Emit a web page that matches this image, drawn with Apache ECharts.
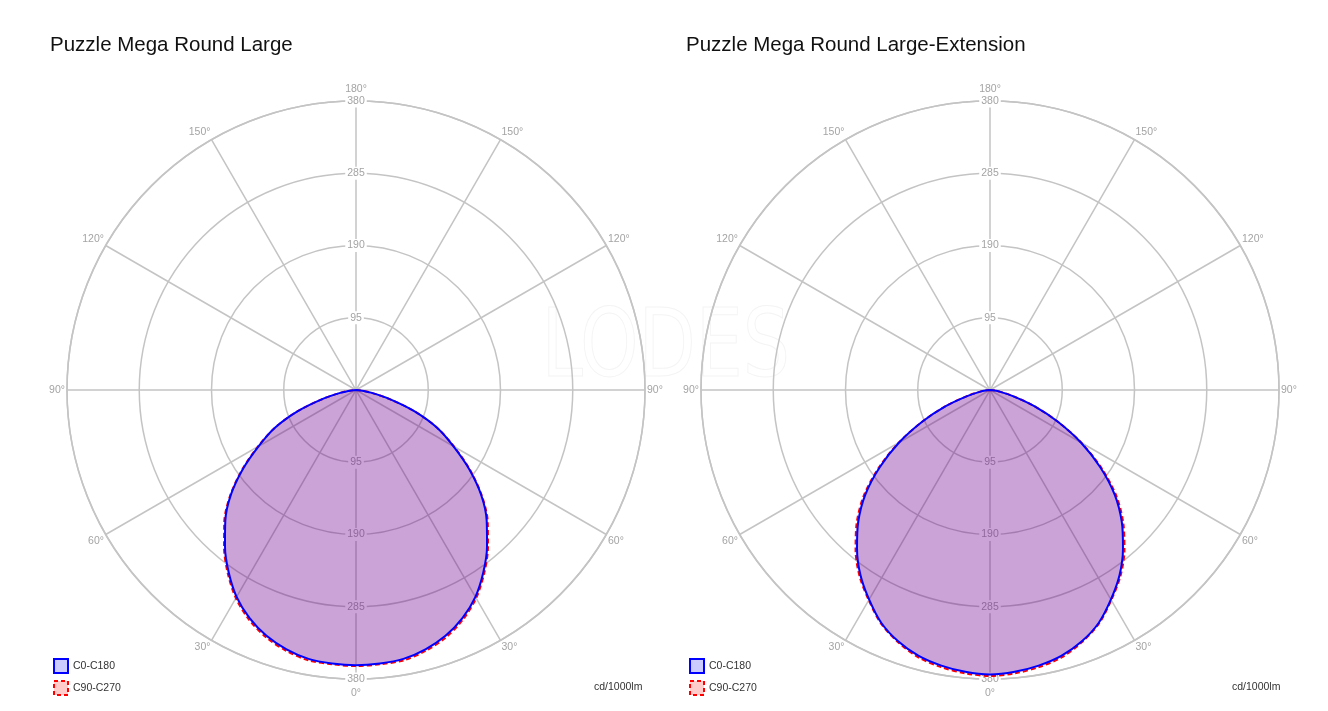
<!DOCTYPE html>
<html>
<head>
<meta charset="utf-8">
<title>Puzzle Mega Round Large</title>
<script src="https://cdn.jsdelivr.net/npm/echarts@6/dist/echarts.min.js"></script>
<style>
  html, body { margin: 0; padding: 0; background: #fff; }
  #chart { width: 1328px; height: 711px; }
</style>
</head>
<body>
<div id="chart"></div>
<script>
// angles from nadir (0 = straight down), one side of the curve
const anglesDeg = [0, 5, 10, 15, 20, 25, 30, 35, 40, 45, 50, 55, 60, 65, 70, 75, 80, 85, 90];

// Puzzle Mega Round Large
const largeC0 = [362, 361, 359, 353, 344, 331, 314, 292, 268, 243, 215, 182, 148, 118, 82, 46, 20, 6, 0];
const largeC90 = [363, 362, 361, 355, 346, 333, 316, 294, 270, 245, 216, 183, 149, 118, 82, 45, 20, 6, 0];

// Puzzle Mega Round Large-Extension
const extC0 = [374, 372, 368, 362, 352, 338, 318, 297, 272, 245, 214, 177, 138, 98, 62, 32, 14, 4, 0];
const extC90 = [376, 374, 370, 364, 353, 339, 319, 299, 275, 248, 217, 179, 139, 98, 62, 32, 14, 4, 0];

const radiusTicks = [95, 190, 285, 380];
const chartTitles = ['Puzzle Mega Round Large', 'Puzzle Mega Round Large-Extension'];
const seriesNames = ['C0-C180', 'C90-C270'];
const unitLabel = 'cd/1000lm';

const FONT = 'Liberation Sans';
const GRID = '#c4c4c4';
const LABEL = '#a4a4a4';
const R = 289;
const centers = [[356, 390], [990, 390]];

// mirror one half into a full loop: right side (negative angles) then left side
const toLoop = (vals) => {
  const pts = [];
  for (let i = anglesDeg.length - 1; i >= 0; i--) pts.push([vals[i], -anglesDeg[i]]);
  for (let i = 1; i < anglesDeg.length; i++) pts.push([vals[i], anglesDeg[i]]);
  return pts;
};

const polar = [];
const angleAxis = [];
const radiusAxis = [];
const series = [];

const radiusLabels = (idx) => ({
  polarIndex: idx,
  type: 'value',
  min: 0,
  max: radiusTicks[radiusTicks.length - 1],
  interval: radiusTicks[0],
  z: 1,
  axisLine: { show: false },
  axisTick: { show: false },
  splitLine: { show: false },
  axisLabel: {
    showMinLabel: false,
    margin: 0,
    align: 'center',
    verticalAlign: 'middle',
    color: LABEL,
    fontSize: 10.5,
    fontFamily: FONT,
    // white box cuts the ring; under the fill it just looks like the fill
    backgroundColor: '#fff',
    padding: [1, 2],
  },
});

centers.forEach((c, k) => {
  const base = k * 3;
  // main polar, the two helpers only carry the radius labels (up / down)
  for (let j = 0; j < 3; j++) polar.push({ center: [c[0], c[1]], radius: R });

  angleAxis.push({
    polarIndex: base,
    type: 'value',
    min: -180,
    max: 180,
    interval: 30,
    startAngle: 90,
    clockwise: true,
    axisLine: { lineStyle: { color: GRID, width: 1.5 } },
    axisTick: { show: false },
    splitLine: { lineStyle: { color: GRID, width: 1.5 } },
    axisLabel: {
      margin: 2,
      color: LABEL,
      fontSize: 10.5,
      fontFamily: FONT,
      formatter: (v) => {
        const a = Math.abs(v);
        // top and bottom labels sit a bit further out
        return a === 0 || a === 180 ? '{far|' + a + '°}' : a + '°';
      },
      rich: {
        far: { color: LABEL, fontSize: 10.5, fontFamily: FONT, padding: [7, 0, 4, 0] },
      },
    },
  });
  angleAxis.push({ polarIndex: base + 1, type: 'value', min: 0, max: 360, startAngle: 90, show: false });
  angleAxis.push({ polarIndex: base + 2, type: 'value', min: 0, max: 360, startAngle: 270, show: false });

  radiusAxis.push({
    polarIndex: base,
    type: 'value',
    min: 0,
    max: radiusTicks[radiusTicks.length - 1],
    interval: radiusTicks[0],
    axisLine: { show: false },
    axisTick: { show: false },
    axisLabel: { show: false },
    splitLine: { lineStyle: { color: GRID, width: 1.5 } },
  });
  radiusAxis.push(radiusLabels(base + 1));
  radiusAxis.push(radiusLabels(base + 2));

  const c0 = k === 0 ? largeC0 : extC0;
  const c90 = k === 0 ? largeC90 : extC90;

  // red first, blue on top: the two 20% fills mix into the purple
  series.push({
    name: seriesNames[1],
    type: 'line',
    coordinateSystem: 'polar',
    polarIndex: base,
    data: toLoop(c90),
    smooth: 0.3,
    symbol: 'none',
    z: 2,
    lineStyle: { color: '#ff0000', width: 2, type: [5, 3] },
    itemStyle: { color: '#ff0000' },
    areaStyle: { color: 'rgba(255,0,0,0.2)', opacity: 1 },
  });
  series.push({
    name: seriesNames[0],
    type: 'line',
    coordinateSystem: 'polar',
    polarIndex: base,
    data: toLoop(c0),
    smooth: 0.3,
    symbol: 'none',
    z: 3,
    lineStyle: { color: '#0000ff', width: 2 },
    itemStyle: { color: '#0000ff' },
    areaStyle: { color: 'rgba(0,0,255,0.2)', opacity: 1 },
  });
});

const legendData = [
  {
    name: seriesNames[0],
    icon: 'rect',
    itemStyle: { color: 'rgba(0,0,255,0.2)', borderColor: '#0000ff', borderWidth: 2 },
  },
  {
    name: seriesNames[1],
    icon: 'rect',
    itemStyle: { color: 'rgba(255,0,0,0.2)', borderColor: '#ff0000', borderWidth: 2, borderType: [4, 3] },
  },
];

const legend = [53, 689].map((x) => ({
  left: x,
  top: 658,
  padding: 0,
  orient: 'vertical',
  itemWidth: 14,
  itemHeight: 14,
  itemGap: 6,
  selectedMode: false,
  data: legendData,
  textStyle: { color: '#333', fontSize: 10.5, fontFamily: FONT },
}));

const titleStyle = { fontSize: 20.5, fontWeight: 'normal', color: '#111', fontFamily: FONT };
const unitStyle = { fontSize: 10.5, fontWeight: 'normal', color: '#333', fontFamily: FONT };
const title = [
  { text: chartTitles[0], left: 45, top: 30, textStyle: titleStyle },
  { text: chartTitles[1], left: 681, top: 30, textStyle: titleStyle },
  { text: unitLabel, left: 589, top: 677, textStyle: unitStyle },
  { text: unitLabel, left: 1227, top: 677, textStyle: unitStyle },
];

const chart = echarts.init(document.getElementById('chart'));
chart.setOption({
  animation: false,
  backgroundColor: '#fff',
  textStyle: { fontFamily: FONT },
  title,
  legend,
  polar,
  angleAxis,
  radiusAxis,
  series,
  graphic: [
    {
      // faint watermark between the two diagrams
      type: 'text',
      left: 541,
      top: 304,
      z: -10,
      scaleX: 0.88,
      style: {
        text: 'LODES',
        fontSize: 94,
        fontFamily: 'DejaVu Sans Condensed',
        fontWeight: 200,
        fill: 'none',
        stroke: '#f4f4f4',
        lineWidth: 1,
      },
    },
  ],
});
</script>
</body>
</html>
